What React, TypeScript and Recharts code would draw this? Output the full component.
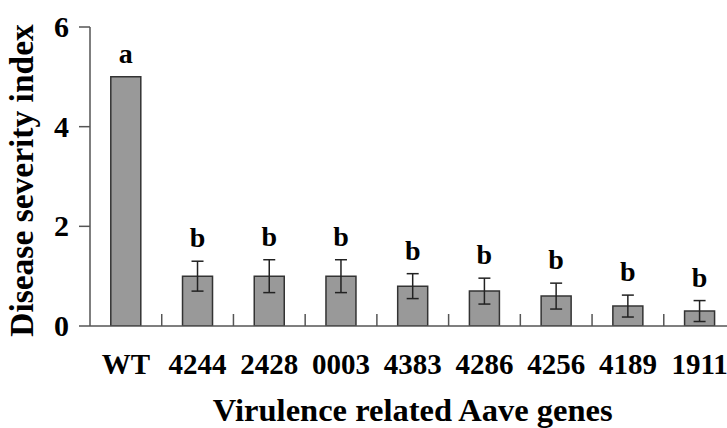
import React from "react";
import { BarChart, Bar, XAxis, YAxis, ErrorBar, LabelList, Label } from "recharts";

const genes = ["WT", "4244", "2428", "0003", "4383", "4286", "4256", "4189", "1911"];
const severity = [5.0, 1.0, 1.0, 1.0, 0.8, 0.7, 0.6, 0.4, 0.3];
const errors = [0, 0.3, 0.33, 0.33, 0.25, 0.26, 0.26, 0.22, 0.21];
const letters = ["a", "b", "b", "b", "b", "b", "b", "b", "b"];
const yTicks = [0, 2, 4, 6];

const data = genes.map((g, i) => ({ gene: g, value: severity[i], err: errors[i], letter: letters[i] }));

const FONT = "'Liberation Serif', 'Times New Roman', Times, 'DejaVu Serif', serif";
const AXIS = "#555";

const txt = (size: number): React.CSSProperties => ({
  fontFamily: FONT,
  fontWeight: 700,
  fontSize: size,
  fill: "#000",
});

const XTick = (props: any) => {
  const { x, y, payload } = props;
  const off = payload && typeof payload.offset === "number" ? payload.offset : 0;
  return (
    <g>
      {off > 0 && (
        <line x1={x + off} x2={x + off} y1={y} y2={y - 12} stroke={AXIS} strokeWidth={1.5} />
      )}
      <text x={x} y={y + 48} textAnchor="middle" style={txt(29)}>
        {payload.value}
      </text>
    </g>
  );
};

const YTick = (props: any) => {
  const { x, y, payload } = props;
  return (
    <text x={x} y={y + 10} textAnchor="end" style={txt(30)}>
      {payload.value}
    </text>
  );
};

const LetterLabel = (props: any) => {
  const { x, y, width, height, value, index } = props;
  const v = severity[index];
  const perUnit = v ? height / v : 0;
  const top = y - errors[index] * perUnit;
  return (
    <text x={x + width / 2} y={top - 14} textAnchor="middle" style={txt(28)}>
      {value}
    </text>
  );
};

const YTitle = (props: any) => {
  const vb = props.viewBox || { x: 0, y: 0, width: 0, height: 0 };
  return (
    <text
      transform={`translate(${vb.x + 33}, ${vb.y + vb.height / 2 + 4}) rotate(-90)`}
      textAnchor="middle"
      style={txt(33.5)}
    >
      Disease severity index
    </text>
  );
};

const XTitle = (props: any) => {
  const vb = props.viewBox || { x: 0, y: 0, width: 0, height: 0 };
  return (
    <text x={vb.x + vb.width / 2} y={vb.y + 95} textAnchor="middle" style={txt(32.5)}>
      Virulence related Aave genes
    </text>
  );
};

export default function App() {
  return (
    <div style={{ position: "absolute", left: 0, top: 0, width: 727, height: 428, overflow: "hidden", background: "#fff" }}>
      <BarChart
        width={740}
        height={428}
        data={data}
        margin={{ top: 27, right: 4.5, left: 0, bottom: 0 }}
        barCategoryGap="29%"
      >
        <XAxis
          dataKey="gene"
          height={102}
          tickSize={0}
          tickMargin={0}
          tickLine={false}
          axisLine={{ stroke: AXIS, strokeWidth: 1.5 }}
          tick={<XTick />}
          interval={0}
        >
          <Label content={<XTitle />} />
        </XAxis>
        <YAxis
          width={90}
          domain={[0, 6]}
          ticks={yTicks}
          tickSize={11}
          tickMargin={10}
          axisLine={{ stroke: AXIS, strokeWidth: 1.5 }}
          tickLine={{ stroke: AXIS, strokeWidth: 1.5 }}
          tick={<YTick />}
          allowDataOverflow
        >
          <Label content={<YTitle />} />
        </YAxis>
        <Bar dataKey="value" fill="#999999" stroke="#333333" strokeWidth={1.5} isAnimationActive={false}>
          <ErrorBar dataKey="err" width={6} stroke="#222" strokeWidth={1.5} direction="y" />
          <LabelList dataKey="letter" content={<LetterLabel />} />
        </Bar>
      </BarChart>
    </div>
  );
}
